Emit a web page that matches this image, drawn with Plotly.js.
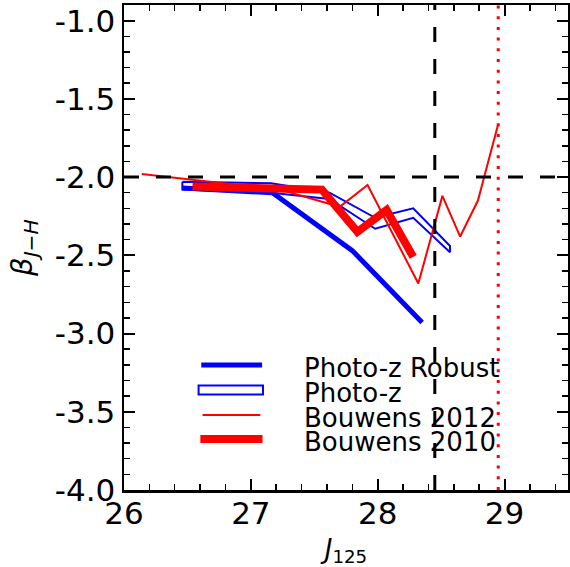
<!DOCTYPE html>
<html>
<head>
<meta charset="utf-8">
<script src="https://cdn.plot.ly/plotly-3.0.1.min.js"></script>
<style>html,body{margin:0;padding:0;background:#fff;} #chart{width:570px;height:567px;}</style>
</head>
<body>
<div id="chart"></div>
<script>
// Photo-z Robust
const robustJ = [26.46, 27.17, 27.80, 28.35];
const robustBeta = [-2.07, -2.10, -2.47, -2.93];
// Photo-z band (upper and lower edges)
const photozJ = [26.46, 27.16, 27.62, 27.98, 28.28, 28.57];
const photozUpper = [-2.03, -2.04, -2.10, -2.26, -2.20, -2.44];
const photozLower = [-2.08, -2.10, -2.14, -2.33, -2.26, -2.48];
// Bouwens 2012
const b12J = [26.14, 27.23, 27.70, 27.92, 28.32, 28.51, 28.65, 28.79, 28.95];
const b12Beta = [-1.98, -2.08, -2.19, -2.05, -2.68, -2.12, -2.38, -2.15, -1.66];
// Bouwens 2010
const b10J = [26.54, 27.56, 27.84, 28.07, 28.28];
const b10Beta = [-2.06, -2.08, -2.35, -2.21, -2.51];
// reference lines
const betaRef = -2.0;
const jLimit = 28.45;
const jDetect = 28.95;
// ticks
const xTickVals = [26, 27, 28, 29];
const xTickText = ['26', '27', '28', '29'];
const yTickVals = [-4.0, -3.5, -3.0, -2.5, -2.0, -1.5, -1.0];
const yTickText = ['-4.0', '-3.5', '-3.0', '-2.5', '-2.0', '-1.5', '-1.0'];
// legend labels
const seriesNames = ['Photo-z Robust', 'Photo-z', 'Bouwens 2012', 'Bouwens 2010'];

const BLUE = '#0000ff', RED = '#ff0000';

const polyX = photozJ.concat(photozJ.slice().reverse(), [photozJ[0]]);
const polyY = photozUpper.concat(photozLower.slice().reverse(), [photozUpper[0]]);

const traces = [
  {x: robustJ, y: robustBeta, mode: 'lines', name: seriesNames[0],
   line: {color: BLUE, width: 5}},
  {x: polyX, y: polyY, mode: 'lines', name: seriesNames[1],
   line: {color: BLUE, width: 2}},
  {x: b12J, y: b12Beta, mode: 'lines', name: seriesNames[2],
   line: {color: RED, width: 2}},
  {x: b10J, y: b10Beta, mode: 'lines', name: seriesNames[3],
   line: {color: RED, width: 8}}
];

const axisCommon = {
  showgrid: false, zeroline: false, showline: true, linecolor: '#000', linewidth: 2.5,
  mirror: 'allticks', ticks: 'inside', ticklen: 11, tickwidth: 2, tickcolor: '#000',
  tickfont: {family: 'DejaVu Sans', size: 31, color: '#000'}
};

// legend drawn in paper space (matplotlib-style legend box, no frame)
const legX0 = 0.174, legX1 = 0.311, legTextX = 0.401;
const legRows = [0.2577, 0.2062, 0.1546, 0.1052];
const legTextDy = -0.006;
const legendShapes = [
  {type: 'line', xref: 'paper', yref: 'paper', x0: legX0, x1: legX1, y0: legRows[0], y1: legRows[0],
   line: {color: BLUE, width: 5}},
  {type: 'rect', xref: 'paper', yref: 'paper', x0: legX0 - 0.006, x1: legX1 + 0.002,
   y0: legRows[1] - 0.0095, y1: legRows[1] + 0.0095,
   line: {color: BLUE, width: 2}, fillcolor: 'rgba(0,0,0,0)'},
  {type: 'line', xref: 'paper', yref: 'paper', x0: legX0 + 0.003, x1: legX1 - 0.004, y0: legRows[2], y1: legRows[2],
   line: {color: RED, width: 2}},
  {type: 'line', xref: 'paper', yref: 'paper', x0: legX0 - 0.002, x1: legX1 + 0.001, y0: legRows[3], y1: legRows[3],
   line: {color: RED, width: 8}}
];
const legendTexts = seriesNames.map((n, i) => ({
  xref: 'paper', yref: 'paper', x: legTextX, y: legRows[i] + legTextDy,
  xanchor: 'left', yanchor: 'middle', showarrow: false, text: n,
  font: {family: 'DejaVu Sans', size: 26, color: '#000'}
}));

const layout = {
  width: 570, height: 567,
  margin: {l: 124, r: 2, t: 5, b: 77},
  paper_bgcolor: '#fff', plot_bgcolor: '#fff',
  font: {family: 'DejaVu Sans', color: '#000'},
  showlegend: false,
  xaxis: Object.assign({}, axisCommon, {
    range: [26, 29.5], tickvals: xTickVals, ticktext: xTickText, ticklabelstandoff: -6,
    minor: {dtick: 0.2, tick0: 26, ticks: 'inside', ticklen: 6, tickwidth: 1.5, tickcolor: '#000'},
    title: {text: '<i>J</i><sub>125</sub>', font: {family: 'DejaVu Sans', size: 26}, standoff: 10}
  }),
  yaxis: Object.assign({}, axisCommon, {
    range: [-4.0, -0.9], tickvals: yTickVals, ticktext: yTickText,
    minor: {dtick: 0.1, tick0: -4, ticks: 'inside', ticklen: 6, tickwidth: 1.5, tickcolor: '#000'},
    title: {text: '<i>β</i><sub><i>J−H</i></sub>', font: {family: 'DejaVu Sans', size: 29}, standoff: 14}
  }),
  shapes: [
    {type: 'line', xref: 'paper', x0: 0, x1: 1, yref: 'y', y0: betaRef, y1: betaRef,
     line: {color: '#000', width: 3, dash: '15px,17px'}, layer: 'above'},
    {type: 'line', xref: 'x', x0: jLimit, x1: jLimit, yref: 'paper', y0: 0, y1: 1,
     line: {color: '#000', width: 3, dash: '15px,17px'}, layer: 'above'},
    {type: 'line', xref: 'x', x0: jDetect, x1: jDetect, yref: 'paper', y0: 0, y1: 1,
     line: {color: RED, width: 3, dash: '3px,7.7px'}, layer: 'above'}
  ].concat(legendShapes),
  annotations: legendTexts
};

Plotly.newPlot('chart', traces, layout, {displayModeBar: false, staticPlot: true});
</script>
</body>
</html>
